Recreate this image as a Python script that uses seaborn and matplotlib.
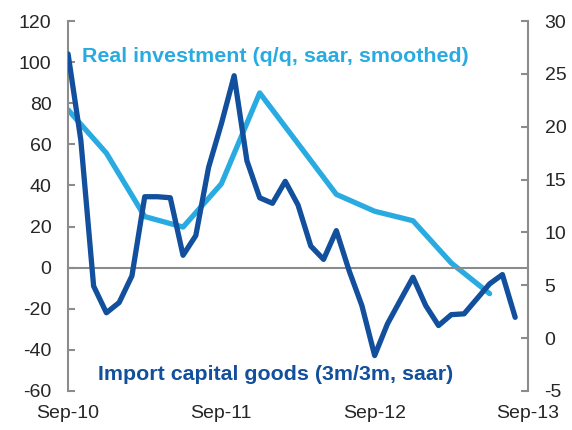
import seaborn as sns
import matplotlib.pyplot as plt
import pandas as pd

# months since Sep-10
month_idx = list(range(36))
import_capital = [104, 62, -9, -22, -17, -4, 34.5, 34.5, 34, 6, 15.6, 48.8,
                  70, 93.4, 52, 34, 31.3, 42, 30.5, 10.5, 4, 18,
                  -1.5, -18.5, -42.8, -27.4, -16, -4.7, -18.5, -28.2, -22.9, -22.5,
                  -15.2, -7.9, -3.4, -24.2]

inv_idx = [0, 3, 6, 9, 12, 15, 21, 24, 27, 30, 33]
real_invest = [21.6, 17.5, 11.5, 10.5, 14.6, 23.2, 13.6, 12.0, 11.1, 7.1, 4.2]

tick_pos = [0, 12, 24, 36]
tick_labels = ["Sep-10", "Sep-11", "Sep-12", "Sep-13"]

dark = "#124f9c"
light = "#29abe2"
grey = "#8c8c8c"

df_imp = pd.DataFrame({"m": month_idx, "v": import_capital})
df_inv = pd.DataFrame({"m": inv_idx, "v": real_invest})

sns.set_style("white")
plt.rcParams["font.family"] = ["Liberation Sans", "DejaVu Sans"]
plt.rcParams["axes.unicode_minus"] = False

fig = plt.figure(figsize=(5.72, 4.30), dpi=100)
ax = fig.add_axes([0.119, 0.091, 0.804, 0.860])
ax2 = ax.twinx()

sns.lineplot(data=df_inv, x="m", y="v", ax=ax2, color=light, linewidth=3.8, zorder=2)
sns.lineplot(data=df_imp, x="m", y="v", ax=ax, color=dark, linewidth=3.8, zorder=3)

ax.set_zorder(ax2.get_zorder() + 1)
ax.patch.set_visible(False)

ax.set_xlim(0, 36)
ax.set_ylim(-60, 120)
ax.set_yticks(range(-60, 121, 20))
ax2.set_ylim(-5, 30)
ax2.set_yticks(range(-5, 31, 5))

for a in (ax, ax2):
    a.set_xlabel("")
    a.set_ylabel("")
    for s in a.spines.values():
        s.set_visible(False)

ax.spines["left"].set_visible(True)
ax.spines["left"].set_color(grey)
ax.spines["left"].set_linewidth(1.5)
ax2.spines["right"].set_visible(True)
ax2.spines["right"].set_color(grey)
ax2.spines["right"].set_linewidth(1.5)

# x axis drawn at zero
ax.spines["bottom"].set_visible(True)
ax.spines["bottom"].set_position(("data", 0))
ax.spines["bottom"].set_color(grey)
ax.spines["bottom"].set_linewidth(1.5)
ax.set_xticks(tick_pos)
ax.tick_params(axis="x", direction="inout", length=9, width=1.2, color=grey,
               labelbottom=False)

ax.tick_params(axis="y", direction="in", length=5, width=1.5, color=grey,
               labelsize=14, pad=12, left=True)
ax2.tick_params(axis="y", direction="in", length=5, width=1.5, color=grey,
                labelsize=14, pad=12, right=True)

sec = ax.secondary_xaxis("bottom")
sec.set_xticks(tick_pos)
sec.set_xticklabels(tick_labels)
sec.tick_params(length=0, labelsize=14, pad=10)
sec.spines["bottom"].set_visible(False)

ax.text(0.03, 0.905, "Real investment (q/q, saar, smoothed)", transform=ax.transAxes,
        color=light, fontsize=15.4, fontweight="bold", va="center", ha="left")
ax.text(0.066, 0.043, "Import capital goods (3m/3m, saar)", transform=ax.transAxes,
        color=dark, fontsize=15.4, fontweight="bold", va="center", ha="left")

fig.savefig("out.png", dpi=100)
